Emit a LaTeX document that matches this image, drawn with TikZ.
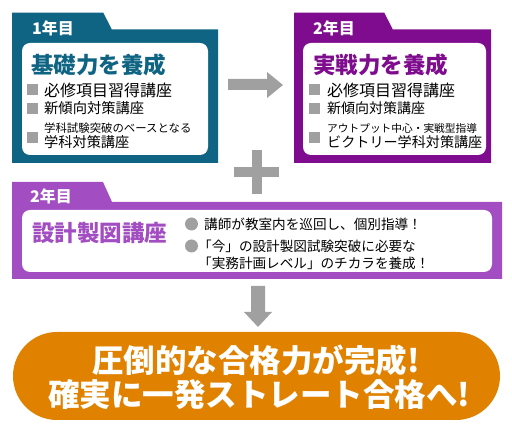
\documentclass[tikz,border=0pt]{standalone}
\usepackage{fontspec}
\newfontfamily\jp{Noto Sans CJK JP}
\definecolor{tealA}{HTML}{0E6482}
\definecolor{purpB}{HTML}{7F0C8E}
\definecolor{purpC}{HTML}{A34DC2}
\definecolor{orngD}{HTML}{E08200}
\definecolor{grayE}{HTML}{A0A0A0}
\newcommand{\fs}[1]{\fontsize{#1}{#1}\selectfont}
\tikzset{
  txt/.style={inner sep=0pt, anchor=west, font=\jp},
  tabtxt/.style={txt, text=white, font=\jp\bfseries\fs{16}},
  head/.style={txt, font=\jp\bfseries\fs{22.5}},
  innerbox/.style={fill=white, rounded corners=8pt},
  sq/.style={fill=grayE},
  blockarrow/.style={fill=grayE}
}
\begin{document}
\begin{tikzpicture}[x=1pt,y=-1pt]
\useasboundingbox (0,0) rectangle (512,427);

% ---------- Box 1 ----------
\fill[tealA] (12,12.7) -- (103.3,12.7) -- (111.7,29.3) -- (218,29.3) -- (218,163) -- (12,163) -- cycle;
\fill[innerbox] (22,43) rectangle (208,155);
\node[tabtxt] (t1) at (32,28) {1年目};
\node[head, text=tealA] (h1) at (31,65) {基礎力を養成};
\fill[sq] (27,84) rectangle (38,95);
\fill[sq] (27,103) rectangle (38,114);
\fill[sq] (27,132) rectangle (38,143);
\node[txt, font=\jp\fs{16}] (a1) at (44,90) {必修項目習得講座};
\node[txt, font=\jp\fs{14.3}] (a2) at (44,108) {新傾向対策講座};
\node[txt, font=\jp\fs{11.4}] (a3) at (44,128) {学科試験突破のベースとなる};
\node[txt, font=\jp\fs{14.2}] (a4) at (44,142) {学科対策講座};

% ---------- Box 2 ----------
\fill[purpB] (294,12.7) -- (384.3,12.7) -- (392.7,29.3) -- (491,29.3) -- (491,163) -- (294,163) -- cycle;
\fill[innerbox] (303,43) rectangle (486,155);
\node[tabtxt] (t2) at (313,28) {2年目};
\node[head, text=purpB] (h2) at (313,65) {実戦力を養成};
\fill[sq] (309,84) rectangle (320,95);
\fill[sq] (309,103) rectangle (320,114);
\fill[sq] (309,132) rectangle (320,143);
\node[txt, font=\jp\fs{16}] (b1) at (327,90) {必修項目習得講座};
\node[txt, font=\jp\fs{14}] (b2) at (327,108) {新傾向対策講座};
\node[txt, font=\jp\fs{10.7}] (b3) at (327,128) {アウトプット中心・実戦型指導};
\node[txt, font=\jp\fs{14.1}] (b4) at (327,142) {ビクトリー学科対策講座};

% ---------- right arrow ----------
\fill[blockarrow] (228,79) -- (267,79) -- (267,72) -- (283,85) -- (267,98) -- (267,90) -- (228,90) -- cycle;

% ---------- plus ----------
\fill[blockarrow] (252,150) rectangle (262,194);
\fill[blockarrow] (234,167) rectangle (279,177);

% ---------- Box 3 ----------
\fill[purpC] (12,182) -- (103,182) -- (112,202) -- (502,202) -- (502,279) -- (12,279) -- cycle;
\fill[innerbox] (22,210) rectangle (492,272);
\node[tabtxt] (t3) at (30,196) {2年目};
\node[head, text=purpC] (h3) at (32,233) {設計製図講座};
\fill[grayE] (191.5,224) circle (6.5);
\fill[grayE] (191.5,246) circle (6.5);
\node[txt, font=\jp\fs{13.6}] (c1) at (204,224) {講師が教室内を巡回し、個別指導！};
\node[txt, font=\jp\fs{13.6}] (c2) at (198,246) {「今」の設計製図試験突破に必要な};
\node[txt, font=\jp\fs{13.6}] (c3) at (198,263) {「実務計画レベル」のチカラを養成！};

% ---------- down arrow ----------
\fill[blockarrow] (251,286) -- (265,286) -- (265,312) -- (272,312) -- (258,327) -- (244,312) -- (251,312) -- cycle;

% ---------- result ----------
\fill[orngD, rounded corners=44pt] (13,332) rectangle (500,420);
\node[txt, text=white, font=\jp\bfseries\fs{31.5}] (r1) at (92,360) {圧倒的な合格力が完成!};
\node[txt, text=white, font=\jp\bfseries\fs{31.5}] (r2) at (48,395) {確実に一発ストレート合格へ!};
\end{tikzpicture}
\end{document}
